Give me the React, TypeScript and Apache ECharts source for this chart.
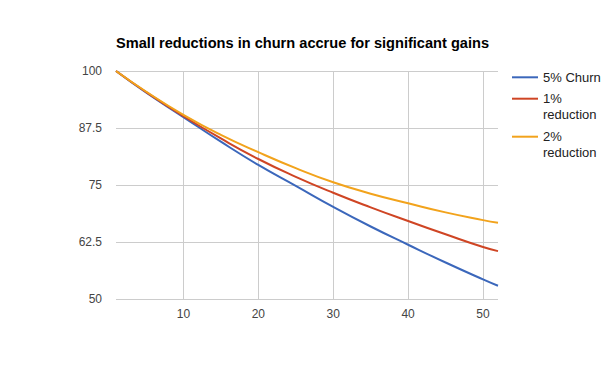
import React, { useEffect, useRef } from "react";
import * as echarts from "echarts";

const titleText = "Small reductions in churn accrue for significant gains";
const weeks = [1, 5, 10, 15, 20, 25, 30, 35, 40, 45, 50, 52];
const churn5 = [100, 95.3, 89.9, 84.5, 79.4, 74.8, 70.2, 65.9, 61.9, 58.0, 54.3, 52.9];
const reduction1 = [100, 95.4, 90.1, 85.2, 80.7, 76.8, 73.3, 70.1, 67.1, 64.2, 61.4, 60.5];
const reduction2 = [100, 95.5, 90.4, 86.0, 82.2, 78.7, 75.6, 73.1, 71.0, 69.0, 67.3, 66.7];
const seriesNames = ["5% Churn", "1% reduction", "2% reduction"];
const xTicks = [10, 20, 30, 40, 50];
const colors = ["#3b67bb", "#cf4524", "#f2a31c"];

const FONT = "Arial, 'Liberation Sans', sans-serif";

export default function App() {
  const ref = useRef<HTMLDivElement>(null);
  useEffect(() => {
    document.body.style.margin = "0";
    const chart = echarts.init(ref.current!, undefined, { renderer: "svg" });
    const seriesData = [churn5, reduction1, reduction2];
    const legendTops = [69.3, 74.7, 112.7];
    chart.setOption({
      animation: false,
      title: {
        text: titleText,
        left: 116,
        top: 35,
        padding: 0,
        textStyle: { fontFamily: FONT, fontSize: 14.6, fontWeight: "bold", color: "#000" },
      },
      legend: seriesNames.map((name, i) => ({
        data: [name],
        left: 512,
        top: legendTops[i],
        padding: 0,
        orient: "vertical",
        icon: "rect",
        itemWidth: 26,
        itemHeight: 2,
        selectedMode: false,
        formatter: (n: string) =>
          n.indexOf(" reduction") >= 0 ? "\n" + n.replace(" reduction", "\nreduction") : n,
        textStyle: {
          fontFamily: FONT,
          fontSize: 13,
          color: "#222",
          lineHeight: 16,
        },
      })),
      grid: { left: 116, right: 116, top: 71, bottom: 72, containLabel: false },
      xAxis: {
        type: "value",
        min: 1,
        max: 52,
        axisLine: { show: false },
        axisTick: { show: false, customValues: xTicks },
        axisLabel: {
          customValues: xTicks,
          fontFamily: FONT,
          fontSize: 12,
          color: "#444",
          margin: 9,
        },
        splitLine: { show: true, lineStyle: { color: "#cccccc", width: 1 } },
      },
      yAxis: {
        type: "value",
        min: 50,
        max: 100,
        interval: 12.5,
        axisLine: { show: false },
        axisTick: { show: false },
        axisLabel: { fontFamily: FONT, fontSize: 12, color: "#444", margin: 14 },
        splitLine: { show: true, lineStyle: { color: "#cccccc", width: 1 } },
      },
      series: seriesNames.map((name, i) => ({
        name,
        type: "line",
        smooth: true,
        symbol: "none",
        data: weeks.map((w, j) => [w, seriesData[i][j]]),
        lineStyle: { color: colors[i], width: 2 },
        itemStyle: { color: colors[i] },
        z: 3 + i,
      })),
    });
    return () => chart.dispose();
  }, []);
  return <div ref={ref} style={{ width: 614, height: 371 }} />;
}
